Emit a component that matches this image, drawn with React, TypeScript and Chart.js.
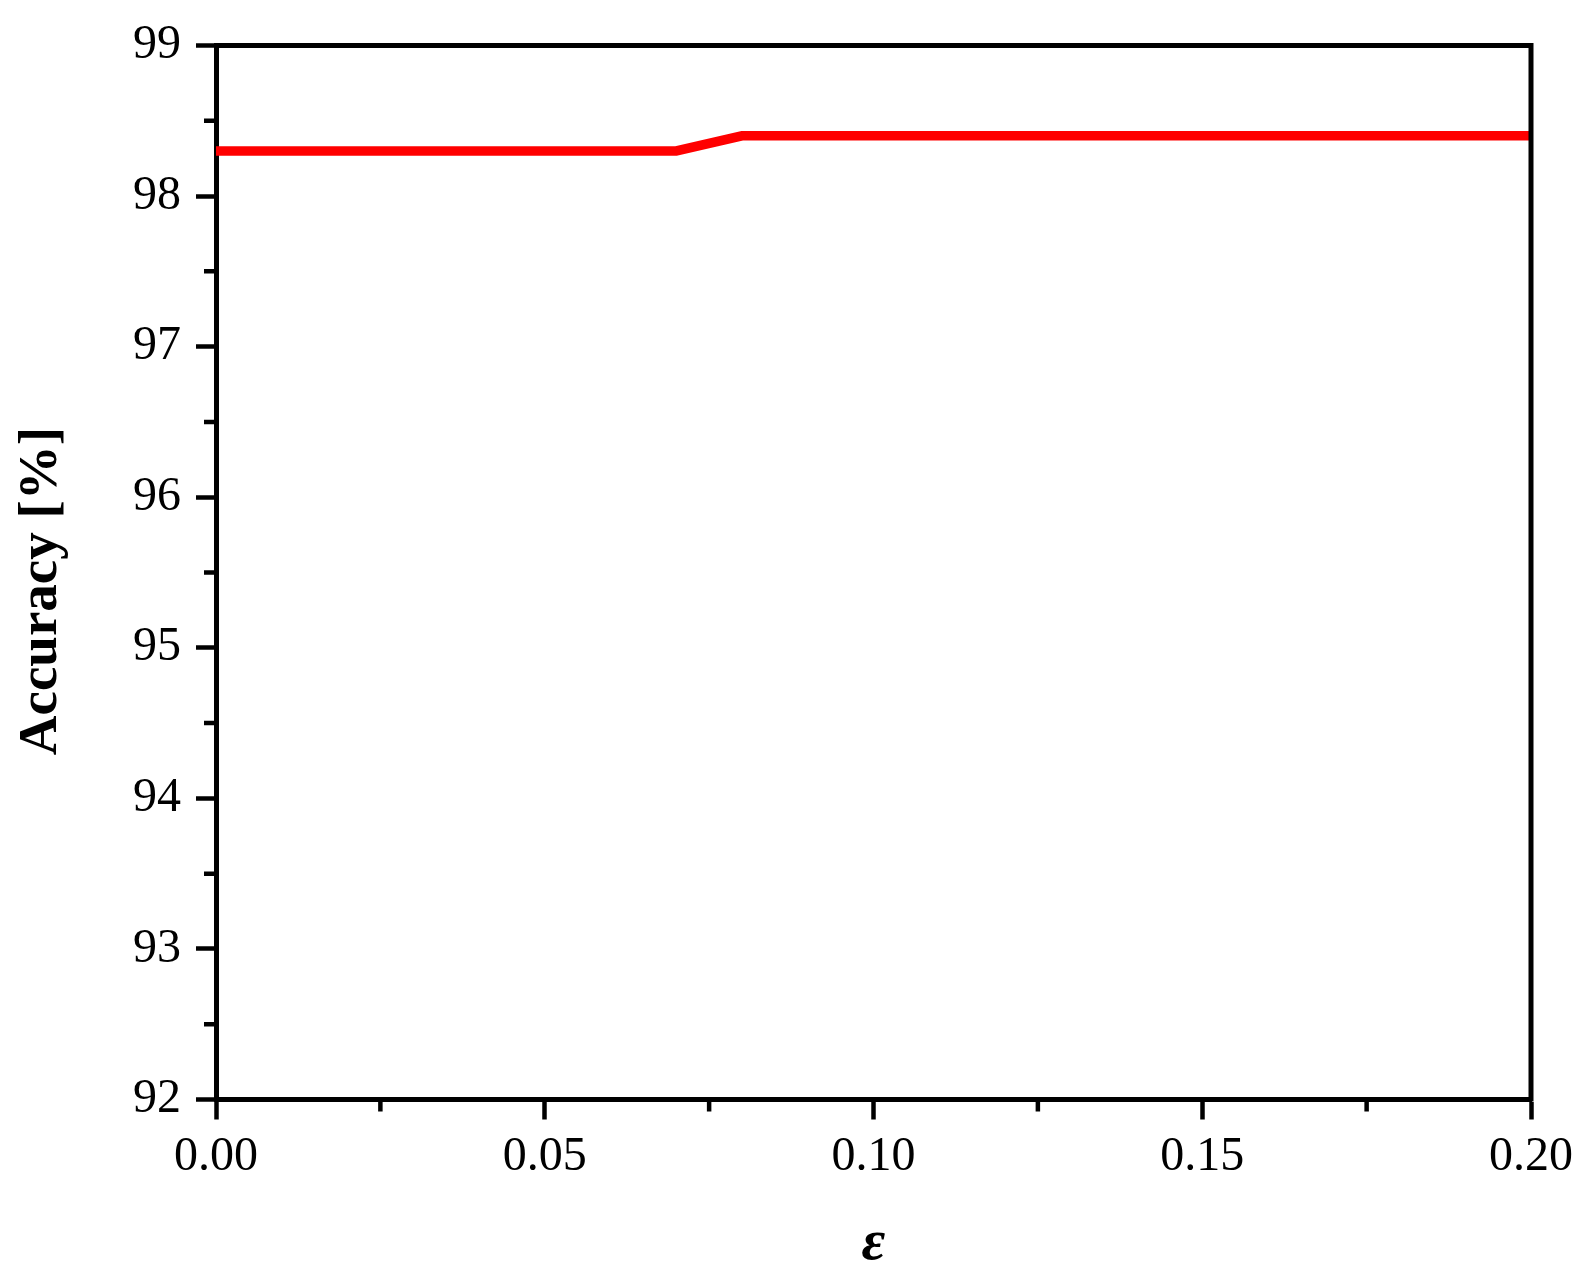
import React, { useEffect, useRef } from "react";
import { Chart, registerables } from "chart.js";

Chart.register(...registerables);

const epsilonValues = [0.0, 0.01, 0.02, 0.03, 0.04, 0.05, 0.06, 0.07, 0.08, 0.09, 0.1, 0.11, 0.12, 0.13, 0.14, 0.15, 0.16, 0.17, 0.18, 0.19, 0.2];
const accuracyValues = [98.3, 98.3, 98.3, 98.3, 98.3, 98.3, 98.3, 98.3, 98.4, 98.4, 98.4, 98.4, 98.4, 98.4, 98.4, 98.4, 98.4, 98.4, 98.4, 98.4, 98.4];
const xMinorTicks = [0.025, 0.075, 0.125, 0.175];
const yMinorTicks = [92.5, 93.5, 94.5, 95.5, 96.5, 97.5, 98.5];
const yTitle = "Accuracy [%]";
const xTitle = "ε";

const FONT = "'Liberation Serif', 'Times New Roman', serif";

const framePlugin = {
  id: "frameAndMinor",
  afterDraw(chart: any) {
    const { ctx, chartArea, scales } = chart;
    const { left, right, top, bottom } = chartArea;
    ctx.save();
    ctx.strokeStyle = "#000";
    ctx.lineWidth = 5;
    ctx.lineCap = "butt";
    ctx.beginPath();
    ctx.moveTo(left - 2, top);
    ctx.lineTo(right + 2.5, top);
    ctx.moveTo(right, top - 2);
    ctx.lineTo(right, bottom + 2);
    ctx.stroke();
    // minor ticks
    ctx.lineWidth = 4.5;
    ctx.beginPath();
    for (const v of yMinorTicks) {
      const y = scales.y.getPixelForValue(v);
      ctx.moveTo(left, y);
      ctx.lineTo(left - 12, y);
    }
    for (const v of xMinorTicks) {
      const x = scales.x.getPixelForValue(v);
      ctx.moveTo(x, bottom);
      ctx.lineTo(x, bottom + 12);
    }
    ctx.stroke();
    // y title
    ctx.fillStyle = "#000";
    ctx.font = `bold 55px ${FONT}`;
    ctx.textAlign = "center";
    ctx.textBaseline = "alphabetic";
    ctx.translate(56, 591);
    ctx.rotate(-Math.PI / 2);
    ctx.fillText(yTitle, 0, 0);
    ctx.restore();
  },
};

export default function App() {
  const ref = useRef<HTMLCanvasElement | null>(null);
  useEffect(() => {
    if (!ref.current) return;
    const chart = new Chart(ref.current, {
      type: "line",
      data: {
        datasets: [
          {
            data: epsilonValues.map((x, i) => ({ x, y: accuracyValues[i] })),
            borderColor: "#ff0000",
            borderWidth: 9.5,
            pointRadius: 0,
            fill: false,
            tension: 0,
          },
        ],
      },
      options: {
        animation: false,
        responsive: false,
        maintainAspectRatio: false,
        layout: { padding: { top: 45.5, right: 49, left: 0, bottom: 0 } },
        plugins: { legend: { display: false }, tooltip: { enabled: false } },
        scales: {
          x: {
            type: "linear",
            min: 0,
            max: 0.2,
            afterFit: (s: any) => {
              s.height = 180.5;
            },
            ticks: {
              stepSize: 0.05,
              color: "#000",
              padding: 9,
              maxRotation: 0,
              font: { family: FONT, size: 48 },
              callback: (v: any) => Number(v).toFixed(2),
            },
            grid: {
              drawOnChartArea: false,
              drawTicks: true,
              tickLength: 20,
              tickWidth: 4.5,
              tickColor: "#000",
            },
            border: { display: true, color: "#000", width: 5 },
            title: {
              display: true,
              text: xTitle,
              color: "#000",
              font: { family: FONT, size: 58, weight: "bold", style: "italic" },
              padding: { top: 0, bottom: 1 },
            },
          },
          y: {
            type: "linear",
            min: 92,
            max: 99,
            afterFit: (s: any) => {
              s.width = 216;
            },
            ticks: {
              stepSize: 1,
              color: "#000",
              padding: 15,
              font: { family: FONT, size: 48 },
            },
            grid: {
              drawOnChartArea: false,
              drawTicks: true,
              tickLength: 20,
              tickWidth: 4.5,
              tickColor: "#000",
            },
            border: { display: true, color: "#000", width: 5 },
          },
        },
      },
      plugins: [framePlugin],
    } as any);
    return () => chart.destroy();
  }, []);
  return (
    <div style={{ position: "absolute", left: 0, top: 0, width: 1582, height: 1280, background: "#fff" }}>
      <canvas ref={ref} width={1582} height={1280} style={{ display: "block", width: 1582, height: 1280 }} />
    </div>
  );
}
